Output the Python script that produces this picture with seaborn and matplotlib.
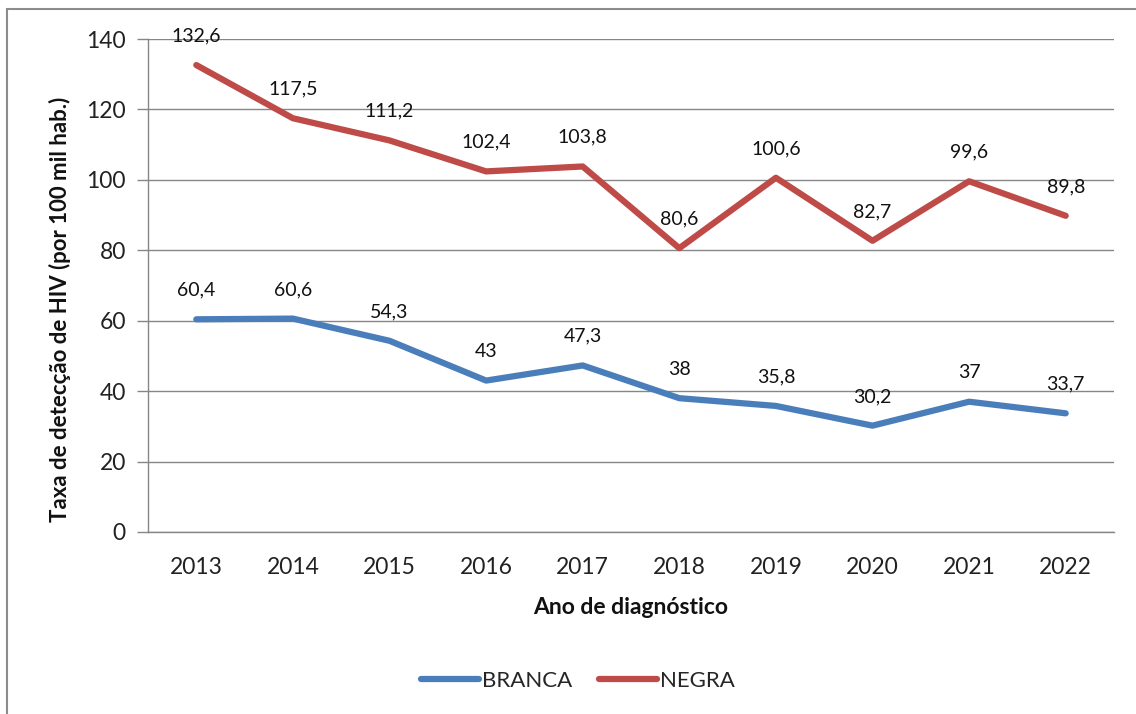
import matplotlib
matplotlib.use("Agg")
import matplotlib.pyplot as plt
import seaborn as sns
import pandas as pd
from matplotlib.patches import Rectangle
from matplotlib.lines import Line2D

anos = ["2013", "2014", "2015", "2016", "2017", "2018", "2019", "2020", "2021", "2022"]
branca = [60.4, 60.6, 54.3, 43, 47.3, 38, 35.8, 30.2, 37, 33.7]
negra = [132.6, 117.5, 111.2, 102.4, 103.8, 80.6, 100.6, 82.7, 99.6, 89.8]
series_names = ["BRANCA", "NEGRA"]
colors = {"BRANCA": "#4A7EBB", "NEGRA": "#BE4B48"}

def fmt(v):
    return ("%g" % v).replace(".", ",")

rows = []
for i, a in enumerate(anos):
    rows.append({"pos": i, "ano": a, "serie": "BRANCA", "valor": branca[i]})
    rows.append({"pos": i, "ano": a, "serie": "NEGRA", "valor": negra[i]})
df = pd.DataFrame(rows)

sns.set_theme(style="white")
plt.rcParams["font.family"] = ["Lato", "DejaVu Sans"]

fig = plt.figure(figsize=(11.36, 7.14), dpi=100)
fig.patch.set_facecolor("white")
ax = fig.add_axes([148/1136, 1-532/714, (1114-148)/1136, (532-39)/714])

sns.lineplot(data=df, x="pos", y="valor", hue="serie", hue_order=series_names,
             palette=colors, linewidth=4.5, ax=ax, legend=False, sort=False)
for ln in ax.lines:
    ln.set_solid_capstyle("round")
    ln.set_solid_joinstyle("round")

for vals in (branca, negra):
    for i, v in enumerate(vals):
        ax.annotate(fmt(v), (i, v), xytext=(0, 21), textcoords="offset points",
                    ha="center", va="center", fontsize=14, color="#111111")

ax.set_xlim(-0.5, 9.5)
ax.set_ylim(0, 140)
ax.set_yticks(range(0, 141, 20))
ax.set_yticklabels([str(v) for v in range(0, 141, 20)], fontsize=16.5, color="#222222")
ax.set_xticks(range(len(anos)))
ax.set_xticklabels(anos, fontsize=16.5, color="#222222")
ax.set_xticks([i - 0.5 for i in range(len(anos) + 1)], minor=True)
ax.tick_params(axis="x", which="major", length=0, pad=18)
ax.tick_params(axis="x", which="minor", length=8, width=1, color="#868686", direction="out")
ax.tick_params(axis="y", which="major", length=8, width=1, color="#868686", direction="out", left=True, pad=8)

ax.yaxis.grid(True, color="#868686", linewidth=1)
ax.xaxis.grid(False)
ax.set_axisbelow(True)
for s in ["top", "right"]:
    ax.spines[s].set_visible(False)
for s in ["left", "bottom"]:
    ax.spines[s].set_color("#868686")
    ax.spines[s].set_linewidth(1)

ax.set_xlabel("Ano de diagnóstico", fontsize=16.5, fontweight="bold", color="#111111")
ax.set_ylabel("Taxa de detecção de HIV (por 100 mil hab.)", fontsize=16, fontweight="bold",
              color="#111111")
ax.xaxis.set_label_coords(0.5, (532-607)/493)
ax.yaxis.set_label_coords((60-148)/966, (532-309)/493)
ax.xaxis.label.set_va("center")
ax.yaxis.label.set_va("center")

handles = [Line2D([0], [0], color=colors[n], lw=4.5, solid_capstyle="round") for n in series_names]
fig.legend(handles, series_names, loc="center", bbox_to_anchor=(578/1136, 1-681/714), ncol=2,
           frameon=False, fontsize=16, handlelength=2.6, handletextpad=0.15, columnspacing=1.2)

fig.patches.append(Rectangle((7/1136, -0.1), 1.2, (714-9)/714 + 0.1, transform=fig.transFigure,
                             fill=False, edgecolor="#8c8c8c", linewidth=1.5, figure=fig))

fig.savefig("out.png", dpi=100, facecolor="white")
